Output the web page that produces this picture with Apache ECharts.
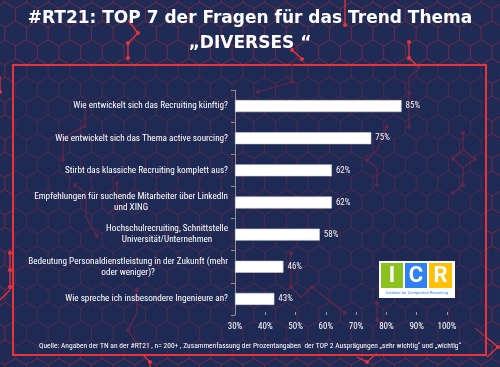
<!DOCTYPE html>
<html>
<head>
<meta charset="utf-8">
<script src="https://cdn.jsdelivr.net/npm/echarts@6/dist/echarts.min.js"></script>
<style>
html,body{margin:0;padding:0;background:#1f2a55;}
#chart{width:500px;height:367px;}
</style>
</head>
<body>
<div id="chart"></div>
<script>
const titleLines = ['#RT21: TOP 7 der Fragen für das Trend Thema', '„DIVERSES “'];
const categories = [
  'Wie entwickelt sich das Recruiting künftig?',
  'Wie entwickelt sich das Thema active sourcing?',
  'Stirbt das klassiche Recruiting komplett aus?',
  'Empfehlungen für suchende Mitarbeiter über LinkedIn\nund XING',
  'Hochschulrecruiting, Schnittstelle\nUniversität/Unternehmen',
  'Bedeutung Personaldienstleistung in der Zukunft (mehr\noder weniger)?',
  'Wie spreche ich insbesondere Ingenieure an?'
];
const values = [85, 75, 62, 62, 58, 46, 43];
const axisMin = 30, axisMax = 100, axisStep = 10;
const footnote = 'Quelle: Angaben der TN an der #RT21 , n= 200+ , Zusammenfassung der Prozentangaben  der TOP 2 Ausprägungen „sehr wichtig“ und „wichtig“';
const logoLetters = ['I', 'C', 'R'];
const logoSub = 'Institute for Competitive Recruiting';

const chart = echarts.init(document.getElementById('chart'), null, {renderer: 'canvas'});

// ---- decorative background (hexagon texture and circuit traces) ----
const deco = [];
const r = 12.5, hw = Math.sqrt(3) * r, vs = 1.5 * r;
for (let row = -1; row < 367 / vs + 2; row++) {
  for (let col = -1; col < 500 / hw + 2; col++) {
    const cx = col * hw + (row % 2 ? hw / 2 : 0) - 6;
    const cy = row * vs - 4;
    const pts = [];
    for (let k = 0; k < 6; k++) {
      const a = Math.PI / 180 * (60 * k - 30);
      pts.push([cx + r * Math.cos(a), cy + r * Math.sin(a)]);
    }
    deco.push({type: 'polygon', shape: {points: pts}, silent: true, z: -20,
      style: {fill: null, stroke: 'rgba(210,45,60,0.36)', lineWidth: 0.7}});
  }
}
const brightTraces = [
  {p: [[128,20],[138,33],[128,43],[128,58]], d: [[138,33],[128,43],[128,58]]},
  {p: [[345,0],[345,25]], d: [[345,25]]},
  {p: [[292,50],[302,59]], d: [[292,50],[302,59]]},
  {p: [[409,42],[409,58],[420,68]], d: [[409,42],[409,58]]},
  {p: [[10,250],[10,290],[0,300]], d: [[10,253],[10,270],[10,287]]},
  {p: [[0,76],[0,92]], d: [[0,92]]},
  {p: [[143,355],[150,362],[150,367]], d: [[150,362]]},
  {p: [[357,357],[367,362],[377,353]], d: [[367,362]]},
  {p: [[475,328],[498,347],[487,357]], d: [[498,347]]}
];
const dimTraces = [
  {p: [[85,100],[85,126],[63,138],[63,160]], d: [[85,126],[63,160]]},
  {p: [[75,185],[86,193],[86,217],[97,236]], d: [[75,185],[97,236]]},
  {p: [[117,183],[117,207],[107,214]], d: [[117,183]]},
  {p: [[137,290],[137,313],[128,330],[140,350]], d: [[137,290],[128,330]]},
  {p: [[292,63],[292,82],[258,92]], d: [[292,82],[258,92]]},
  {p: [[420,68],[409,77],[409,127]], d: [[409,93],[409,127]]},
  {p: [[387,127],[377,150],[367,160],[377,168],[377,185]], d: [[387,127],[367,160],[377,185]]},
  {p: [[463,133],[463,150],[475,159],[463,168],[453,159],[463,150]], d: [[463,133],[475,159],[453,159]]},
  {p: [[463,168],[463,185],[453,193]], d: [[463,185],[453,193]]},
  {p: [[291,253],[291,287],[301,297],[312,287],[345,313]], d: [[291,253],[291,287],[312,287],[345,313]]},
  {p: [[377,303],[377,320],[387,328]], d: [[377,303],[377,320]]}
];
function traceEls(list, color, z) {
  const out = [];
  list.forEach(t => {
    out.push({type: 'polyline', silent: true, z: z, shape: {points: t.p},
      style: {stroke: color, lineWidth: 1.3, fill: null}});
    t.d.forEach(c => out.push({type: 'circle', silent: true, z: z,
      shape: {cx: c[0], cy: c[1], r: 2}, style: {fill: color}}));
  });
  return out;
}

const labelFont = "'Liberation Sans Narrow', 'Roboto Condensed', Roboto, sans-serif";
const labelSize = 9.2;

// centre the lines of wrapped category labels: right-aligned lines padded by a spacer token
const measureCtx = document.createElement('canvas').getContext('2d');
measureCtx.font = 'normal normal ' + labelSize + 'px ' + labelFont;
const richStyles = {c: {color: '#ffffff', fontSize: labelSize, fontFamily: labelFont, lineHeight: 11}};
const labelText = categories.map((cat, i) => {
  const lines = cat.split('\n');
  if (lines.length < 2) return cat;
  const widths = lines.map(s => measureCtx.measureText(s).width);
  const maxW = Math.max(...widths);
  return lines.map((s, j) => {
    const pad = (maxW - widths[j]) / 2;
    if (pad < 0.5) return '{c|' + s + '}';
    const name = 'p' + i + '_' + j;
    richStyles[name] = {width: pad, fontSize: labelSize, fontFamily: labelFont, lineHeight: 11};
    return '{c|' + s + '}{' + name + '| }';
  }).join('\n');
});

const option = {
  backgroundColor: '#1f2a55',
  animation: false,
  title: {
    text: titleLines.join('\n'),
    left: 'center',
    top: 1,
    textStyle: {color: '#ffffff', fontSize: 17, fontWeight: 'bold', fontFamily: "'DejaVu Sans', sans-serif", lineHeight: 25}
  },
  grid: {left: 235, right: 53, top: 90, bottom: 52, containLabel: false},
  xAxis: {
    type: 'value', min: axisMin, max: axisMax, interval: axisStep, startValue: axisMin,
    axisLine: {show: false},
    axisTick: {show: true, length: 3, inside: true, lineStyle: {color: '#9a9a9a'}},
    splitLine: {show: false},
    axisLabel: {color: '#ffffff', fontSize: 9, fontFamily: labelFont, margin: 7, formatter: '{value}%'}
  },
  yAxis: {
    type: 'category', data: categories, inverse: true,
    axisLine: {show: true, lineStyle: {color: '#8f8f8f', width: 1}},
    axisTick: {show: true, length: 4, lineStyle: {color: '#8f8f8f'}},
    axisLabel: {
      color: '#ffffff', fontSize: labelSize, fontFamily: labelFont, margin: 7, lineHeight: 11,
      formatter: (v, idx) => labelText[idx],
      rich: richStyles
    }
  },
  series: [{
    type: 'bar', data: values, barWidth: 12,
    itemStyle: {color: '#ffffff', borderColor: '#cfcfcf', borderWidth: 0.6},
    label: {show: true, position: 'right', distance: 4, color: '#f2f2f2', fontSize: 9, fontFamily: labelFont, formatter: '{c}%'}
  }],
  graphic: [
    ...deco,
    ...traceEls(brightTraces, '#e8333a', -18),
    {type: 'rect', silent: true, z: -15, shape: {x: 13, y: 65, width: 473, height: 290},
      style: {fill: 'rgba(31,42,85,0.45)', stroke: '#e8333a', lineWidth: 2}},
    ...traceEls(dimTraces, 'rgba(105,38,70,0.9)', -12),
    {type: 'text', z: 5, left: 'center', top: 342,
      style: {text: footnote, fill: '#ffffff', fontSize: 7.5, fontFamily: labelFont}},
    {type: 'group', z: 10, left: 379, top: 261, children: [
      {type: 'rect', shape: {x: 0, y: 0, width: 76, height: 37}, style: {fill: '#ffffff'}},
      {type: 'rect', shape: {x: 2, y: 2, width: 22, height: 25}, style: {fill: '#8cc21e'}},
      {type: 'rect', shape: {x: 26, y: 2, width: 22, height: 25}, style: {fill: '#2f7ff5'}},
      {type: 'rect', shape: {x: 50, y: 2, width: 23, height: 25}, style: {fill: '#ffc107'}},
      {type: 'text', style: {text: logoLetters[0], x: 13, y: 15, align: 'center', verticalAlign: 'middle', fill: '#ffffff', fontSize: 22, fontWeight: 'bold', fontFamily: 'Roboto, sans-serif'}},
      {type: 'text', style: {text: logoLetters[1], x: 37, y: 15, align: 'center', verticalAlign: 'middle', fill: '#ffffff', fontSize: 22, fontWeight: 'bold', fontFamily: 'Roboto, sans-serif'}},
      {type: 'text', style: {text: logoLetters[2], x: 61.5, y: 15, align: 'center', verticalAlign: 'middle', fill: '#ffffff', fontSize: 22, fontWeight: 'bold', fontFamily: 'Roboto, sans-serif'}},
      {type: 'text', style: {text: logoSub, x: 38, y: 32, align: 'center', verticalAlign: 'middle', fill: '#2f7ff5', fontSize: 4, fontFamily: 'Roboto, sans-serif'}}
    ]}
  ]
};
chart.setOption(option);
</script>
</body>
</html>
